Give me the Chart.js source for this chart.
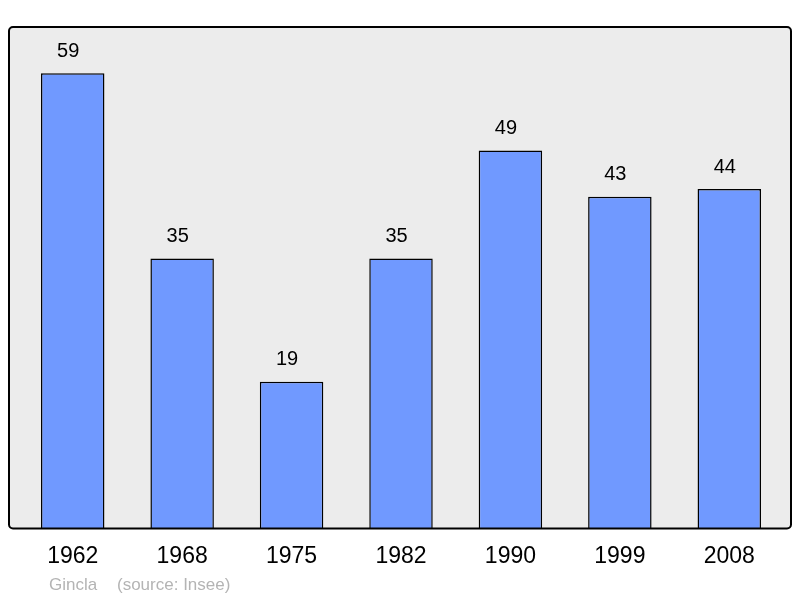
<!DOCTYPE html>
<html>
<head>
<meta charset="utf-8">
<script src="https://cdn.jsdelivr.net/npm/chart.js@4"></script>
<style>
  html, body { margin: 0; padding: 0; background: #fff; }
  #wrap { width: 800px; height: 598px; position: relative; }
</style>
</head>
<body>
<div id="wrap"><canvas id="popChart"></canvas></div>
<script>
// Données : population par recensement
var annees = ["1962", "1968", "1975", "1982", "1990", "1999", "2008"];
var population = [59, 35, 19, 35, 49, 43, 44];
var yMax = 65;

// Fond gris et cadre arrondi autour de la zone du graphique
var cadrePlugin = {
    id: "cadre",
    beforeDraw: function (chart) {
        var ctx = chart.ctx;
        var a = chart.chartArea;
        var x = a.left - 9, y = a.top, w = a.right - a.left + 16, h = a.bottom - a.top;
        ctx.save();
        ctx.beginPath();
        ctx.roundRect(x, y, w, h, 4);
        ctx.fillStyle = "#ececec";
        ctx.fill();
        ctx.restore();
    },
    afterDatasetsDraw: function (chart) {
        var ctx = chart.ctx;
        var a = chart.chartArea;
        var x = a.left - 9, y = a.top, w = a.right - a.left + 16, h = a.bottom - a.top;
        ctx.save();
        ctx.beginPath();
        ctx.roundRect(x, y, w, h, 4);
        ctx.lineWidth = 2;
        ctx.strokeStyle = "#000";
        ctx.stroke();

        // valeurs au-dessus des barres
        var meta = chart.getDatasetMeta(0);
        ctx.fillStyle = "#000";
        ctx.font = "20px 'Liberation Sans', Arial, sans-serif";
        ctx.textAlign = "center";
        ctx.textBaseline = "middle";
        meta.data.forEach(function (bar, i) {
            ctx.fillText(String(population[i]), bar.x - 4.5, bar.y - 22);
        });

        // source
        ctx.fillStyle = "#b4b4b4";
        ctx.font = "17px 'Liberation Sans', Arial, sans-serif";
        ctx.textAlign = "left";
        ctx.fillText("Gincla", 49, 585);
        ctx.fillText("(source: Insee)", 117, 585);
        ctx.restore();
    }
};

var ctx = document.getElementById("popChart").getContext("2d");
new Chart(ctx, {
    type: "bar",
    data: {
        labels: annees,
        datasets: [
            {
                label: "Population",
                data: population,
                backgroundColor: "#7099ff",
                borderColor: "#000",
                borderWidth: 1.5,
                barPercentage: 0.58,
                categoryPercentage: 1,
            },
        ],
    },
    options: {
        responsive: true,
        maintainAspectRatio: false,
        animation: false,
        layout: {
            padding: { left: 18, right: 16, top: 27, bottom: 22 },
        },
        plugins: {
            legend: { display: false },
            tooltip: { enabled: false },
        },
        scales: {
            x: {
                grid: { display: false },
                border: { display: false },
                ticks: {
                    color: "#000",
                    padding: 6,
                    font: { family: "'Liberation Sans', Arial, sans-serif", size: 23 },
                },
            },
            y: {
                display: false,
                min: 0,
                max: yMax,
            },
        },
    },
    plugins: [cadrePlugin],
});
</script>
</body>
</html>
